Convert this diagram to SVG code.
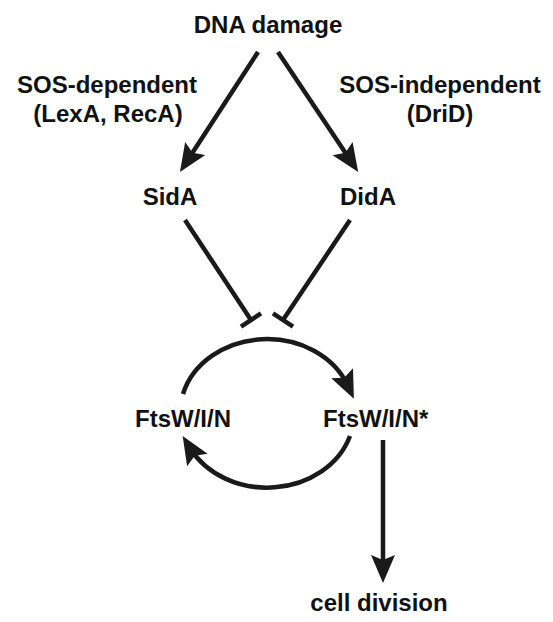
<svg xmlns="http://www.w3.org/2000/svg" width="553" height="622" viewBox="0 0 553 622">
  <defs>
    <style>
      text { font-family: "Liberation Sans", Arial, sans-serif; font-weight: bold; font-size: 24px; fill: #111; }
      .c { text-anchor: middle; }
      .ln { stroke: #1a1a1a; stroke-width: 4.5; fill: none; }
    </style>
    <marker id="ah" markerUnits="userSpaceOnUse" markerWidth="32" markerHeight="28" viewBox="0 -14 32 28" refX="14" refY="0" orient="auto">
      <path d="M0,-12 L28,0 L0,12 L5,0 z" fill="#1a1a1a"/>
    </marker>
  </defs>
  <rect width="553" height="622" fill="#fff"/>

  <g id="connectors">
    <line class="ln" x1="258" y1="52" x2="187.6" y2="160.3" marker-end="url(#ah)"/>
    <line class="ln" x1="278" y1="52" x2="350.4" y2="160.3" marker-end="url(#ah)"/>
    <line class="ln" x1="185" y1="220" x2="251" y2="320"/>
    <line class="ln" x1="241" y1="326.6" x2="261" y2="313.4"/>
    <line class="ln" x1="350" y1="220" x2="283" y2="320"/>
    <line class="ln" x1="273" y1="313.4" x2="293" y2="326.6"/>
    <path class="ln" d="M183,394 A87,74 0 0,1 348,386" marker-end="url(#ah)"/>
    <path class="ln" d="M350,436 A87,74 0 0,1 190,448" marker-end="url(#ah)"/>
    <line class="ln" x1="383" y1="440" x2="383" y2="569" marker-end="url(#ah)"/>
  </g>

  <g id="dna-damage"><text class="c" x="268" y="33">DNA damage</text></g>
  <g id="sos-dependent">
    <text class="c" x="107" y="93">SOS-dependent</text>
    <text class="c" x="108" y="122">(LexA, RecA)</text>
  </g>
  <g id="sos-independent">
    <text class="c" x="440" y="93">SOS-independent</text>
    <text class="c" x="440" y="122">(DriD)</text>
  </g>
  <g id="sida"><text class="c" x="170" y="205">SidA</text></g>
  <g id="dida"><text class="c" x="368" y="205">DidA</text></g>
  <g id="ftswin"><text class="c" x="183" y="427">FtsW/I/N</text></g>
  <g id="ftswin-star"><text x="323" y="427">FtsW/I/N*</text></g>
  <g id="cell-division"><text class="c" x="379" y="611">cell division</text></g>
</svg>
